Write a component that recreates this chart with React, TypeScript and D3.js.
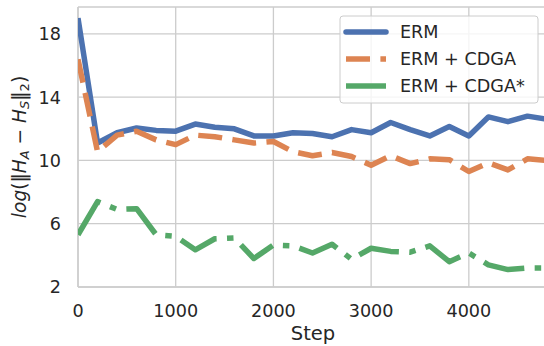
import React from 'react'
import * as d3 from 'd3'

// steps, every 200
const steps = d3.range(0, 4801, 200)

const erm = [19.0, 11.1, 11.75, 12.05, 11.9, 11.85, 12.3, 12.1, 12.0, 11.55, 11.55, 11.75, 11.7, 11.5, 11.95, 11.75, 12.4, 11.95, 11.55, 12.15, 11.55, 12.75, 12.45, 12.8, 12.6]
const ermCdga = [16.4, 10.55, 11.6, 11.85, 11.3, 11.0, 11.6, 11.5, 11.3, 11.1, 11.2, 10.55, 10.3, 10.5, 10.25, 9.7, 10.3, 9.8, 10.1, 10.05, 9.3, 9.85, 9.4, 10.1, 10.0]
const ermCdgaStar = [5.3, 7.4, 6.9, 6.95, 5.3, 5.2, 4.35, 5.05, 5.1, 3.8, 4.65, 4.6, 4.15, 4.7, 3.75, 4.45, 4.25, 4.2, 4.6, 3.6, 4.15, 3.4, 3.1, 3.2, 3.2]

const xTicks = [0, 1000, 2000, 3000, 4000]
const yTicks = [2, 6, 10, 14, 18]

const series = [
  { name: 'ERM', values: erm, color: '#4c72b0', dash: 'none' },
  { name: 'ERM + CDGA', values: ermCdga, color: '#dd8452', dash: '24,10.4' },
  { name: 'ERM + CDGA*', values: ermCdgaStar, color: '#55a868', dash: '41.6,10.4,6.5,10.4' },
]

const W = 544, H = 346
const margin = { top: 7, left: 78, bottom: 287, right: 547 }
const font = 'DejaVu Sans, sans-serif'
const grid = '#cccccc'
const ink = '#262626'

export default function App() {
  const x = d3.scaleLinear().domain([0, 4800]).range([margin.left, margin.right])
  const y = d3.scaleLinear().domain([2, 19.7]).range([margin.bottom, margin.top])

  const line = (vals: number[]) =>
    d3.line<number>()
      .x((_, i) => x(steps[i]))
      .y(d => y(d))(vals) as string

  return (
    <svg width={W} height={H} style={{ position: 'absolute', left: 0, top: 0, background: '#fff' }}>
      <defs>
        <clipPath id="plot">
          <rect x={margin.left} y={margin.top} width={margin.right - margin.left} height={margin.bottom - margin.top} />
        </clipPath>
      </defs>

      {/* grid */}
      {xTicks.map(t => (
        <line key={'gx' + t} x1={x(t)} x2={x(t)} y1={margin.top} y2={margin.bottom} stroke={grid} strokeWidth={1.3} />
      ))}
      {yTicks.map(t => (
        <line key={'gy' + t} x1={margin.left} x2={W} y1={y(t)} y2={y(t)} stroke={grid} strokeWidth={1.3} />
      ))}
      <line x1={margin.left} x2={W} y1={margin.top} y2={margin.top} stroke={grid} strokeWidth={1.5} />
      <line x1={margin.left} x2={W} y1={margin.bottom} y2={margin.bottom} stroke={grid} strokeWidth={1.5} />
      <line x1={margin.left} x2={margin.left} y1={margin.top} y2={margin.bottom} stroke={grid} strokeWidth={1.5} />

      {/* lines */}
      <g clipPath="url(#plot)">
        {series.map(s => (
          <path key={s.name} d={line(s.values)} fill="none" stroke={s.color} strokeWidth={5.5}
            strokeDasharray={s.dash} strokeLinejoin="round" strokeLinecap="butt" />
        ))}
      </g>

      {/* tick labels */}
      {xTicks.map(t => (
        <text key={'tx' + t} x={x(t)} y={317} textAnchor="middle" fontFamily={font} fontSize={17.6} fill={ink}>{t}</text>
      ))}
      {yTicks.map(t => (
        <text key={'ty' + t} x={61} y={y(t)} dy="0.36em" textAnchor="end" fontFamily={font} fontSize={17.6} fill={ink}>{t}</text>
      ))}

      {/* axis labels */}
      <text x={313} y={340} textAnchor="middle" fontFamily={font} fontSize={19.5} fill={ink}>Step</text>
      <text transform="translate(26,147) rotate(-90)" textAnchor="middle" fontFamily={font} fontSize={18.6} fill={ink}>
        <tspan fontStyle="italic">log</tspan>
        <tspan>(‖</tspan>
        <tspan fontStyle="italic">H</tspan>
        <tspan fontStyle="italic" fontSize={13} dy={3}>A</tspan>
        <tspan dy={-3}> − </tspan>
        <tspan fontStyle="italic">H</tspan>
        <tspan fontStyle="italic" fontSize={13} dy={3}>S</tspan>
        <tspan dy={-3}>‖</tspan>
        <tspan fontSize={13} dy={3}>2</tspan>
        <tspan dy={-3}>)</tspan>
      </text>

      {/* legend */}
      <g>
        <rect x={340} y={16} width={198} height={87} rx={3} fill="#fff" fillOpacity={0.8} stroke="#cccccc" strokeWidth={1} />
        {series.map((s, i) => (
          <g key={'lg' + s.name}>
            <line x1={346} x2={386} y1={32 + i * 27} y2={32 + i * 27} stroke={s.color} strokeWidth={5.5}
              strokeDasharray={s.dash} strokeLinecap={i === 0 ? 'round' : 'butt'} />
            <text x={400} y={32 + i * 27} dy="0.36em" fontFamily={font} fontSize={17.6} fill={ink}>{s.name}</text>
          </g>
        ))}
      </g>
    </svg>
  )
}
